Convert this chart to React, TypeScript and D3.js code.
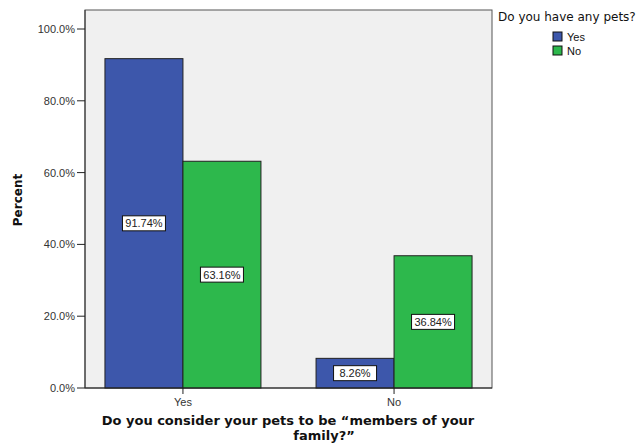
import React from "react";
import * as d3 from "d3";

const categories = ["Yes", "No"];
const series = ["Yes", "No"];
const yesValues = [91.74, 8.26];
const noValues = [63.16, 36.84];
const yTicks = [0, 20, 40, 60, 80, 100];
const colors = ["#3d57ab", "#2db84c"];

export default function App() {
  const W = 639, H = 445;
  const left = 85, right = 492, top = 10, bottom = 388;
  const x = d3.scalePoint<string>().domain(categories).range([left, right]).padding(0.464);
  const y = d3.scaleLinear().domain([0, 100]).range([bottom, 29]);
  const bw = 78;
  const values = [yesValues, noValues];
  const font = "'Liberation Sans', Arial, sans-serif";
  const wide = "'DejaVu Sans', Verdana, sans-serif";
  return (
    <svg width={W} height={H} style={{ position: "absolute", left: 0, top: 0, background: "#fff" }}>
      <rect x={left} y={top} width={right - left} height={bottom - top} fill="#f0f0f0" stroke="#555" strokeWidth={1} />
      {categories.map((c, ci) =>
        series.map((s, si) => {
          const v = values[si][ci];
          const cx = x(c)!;
          const x0 = si === 0 ? cx - bw : cx;
          const yTop = y(v);
          const mid = (yTop + y(0)) / 2;
          const label = v.toFixed(2) + "%";
          const lw = 43;
          return (
            <g key={c + s}>
              <rect x={x0} y={yTop} width={bw} height={y(0) - yTop} fill={colors[si]} stroke="#222" strokeWidth={1} />
              <rect x={x0 + bw / 2 - lw / 2} y={mid - 7.5} width={lw} height={15} fill="#fff" stroke="#111" strokeWidth={1} />
              <text x={x0 + bw / 2} y={mid + 4} textAnchor="middle" fontFamily={font} fontSize={11} fill="#222">{label}</text>
            </g>
          );
        })
      )}
      <line x1={left} x2={right} y1={bottom} y2={bottom} stroke="#222" strokeWidth={1} />
      <line x1={left} x2={left} y1={top} y2={bottom} stroke="#333" strokeWidth={1} />
      {yTicks.map((t) => (
        <g key={t}>
          <line x1={left - 8} x2={left} y1={y(t)} y2={y(t)} stroke="#222" />
          <text x={left - 10} y={y(t) + 4} textAnchor="end" fontFamily={font} fontSize={11} fill="#333">{t.toFixed(1) + "%"}</text>
        </g>
      ))}
      {categories.map((c) => (
        <g key={c}>
          <line x1={x(c)!} x2={x(c)!} y1={bottom} y2={bottom + 6} stroke="#222" />
          <text x={x(c)!} y={bottom + 18} textAnchor="middle" fontFamily={font} fontSize={11} fill="#333">{c}</text>
        </g>
      ))}
      <text transform={`translate(22,200) rotate(-90)`} textAnchor="middle" fontFamily={wide} fontSize={12} fontWeight="bold" fill="#111">Percent</text>
      <text x={288} y={425} textAnchor="middle" fontFamily={wide} fontSize={13} fontWeight="bold" fill="#111">Do you consider your pets to be “members of your</text>
      <text x={324} y={440} textAnchor="middle" fontFamily={wide} fontSize={13} fontWeight="bold" fill="#111">family?”</text>
      <text x={498} y={21} fontFamily={wide} fontSize={12} fill="#111">Do you have any pets?</text>
      {series.map((s, i) => (
        <g key={s}>
          <rect x={553} y={32 + i * 14} width={9} height={9} fill={colors[i]} stroke="#111" />
          <text x={567} y={41 + i * 14} fontFamily={font} fontSize={11} fill="#111">{s}</text>
        </g>
      ))}
    </svg>
  );
}
